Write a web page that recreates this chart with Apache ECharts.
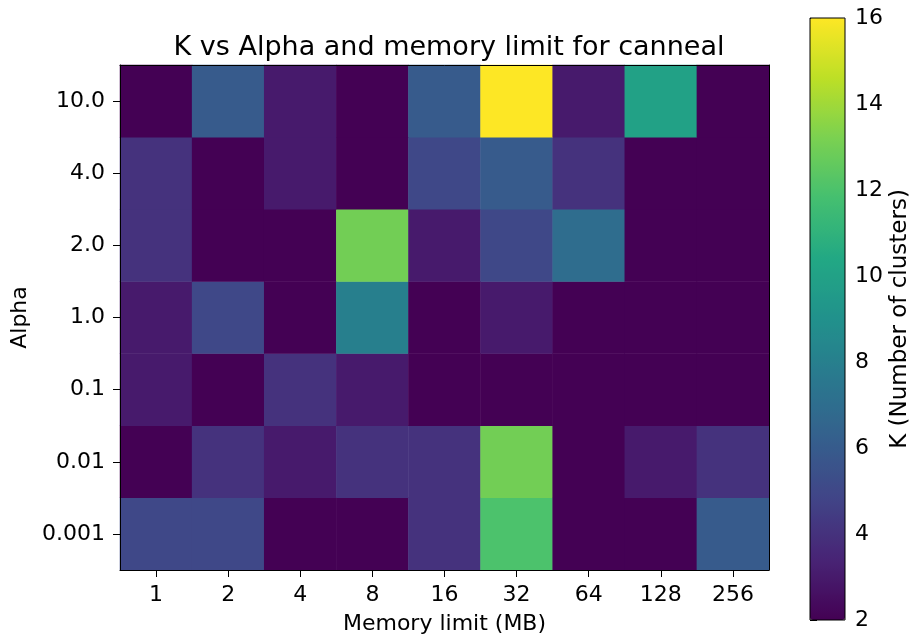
<!DOCTYPE html>
<html>
<head>
<meta charset="utf-8">
<script src="https://cdn.jsdelivr.net/npm/echarts@6/dist/echarts.min.js"></script>
<style>html,body{margin:0;padding:0;background:#fff}#c{width:914px;height:641px}</style>
</head>
<body>
<div id="c"></div>
<script>
const memoryLimits = ['1','2','4','8','16','32','64','128','256'];
const alphas = ['0.001','0.01','0.1','1.0','2.0','4.0','10.0']; // bottom to top
// values per alpha row, columns follow memoryLimits
const row_0_001 = [5,5,2,2,4,12,2,2,6];
const row_0_01  = [2,4,3,4,4,13,2,3,4];
const row_0_1   = [3,2,4,3,2,2,2,2,2];
const row_1_0   = [3,5,2,8,2,3,2,2,2];
const row_2_0   = [4,2,2,13,3,5,7,2,2];
const row_4_0   = [4,2,3,2,5,6,4,2,2];
const row_10_0  = [2,6,3,2,6,16,3,10,2];
const rows = [row_0_001,row_0_01,row_0_1,row_1_0,row_2_0,row_4_0,row_10_0];
const colorTicks = [2,4,6,8,10,12,14,16];

const viridis = ['#440154','#482475','#414487','#355f8d','#2a788e','#21918c','#22a884','#44bf70','#7ad151','#bddf26','#fde725'];

const data = [];
rows.forEach((r, yi) => r.forEach((v, xi) => data.push([xi, yi, v])));

const font = 'DejaVu Sans';
const FS = 22;
const chart = echarts.init(document.getElementById('c'), null, {renderer:'canvas'});
chart.setOption({
  animation: false,
  backgroundColor: '#fff',
  textStyle: {fontFamily: font},
  title: {
    text: 'K vs Alpha and memory limit for canneal',
    left: 444, top: 29, textAlign: 'center',
    textStyle: {fontFamily: font, fontSize: 27, fontWeight: 'normal', color: '#000'}
  },
  grid: [
    {left: 120, top: 65, width: 649, height: 505},
    {left: 810, top: 18, width: 35, height: 602, show: true, borderColor: '#000', borderWidth: 1, backgroundColor: 'transparent', z: 10}
  ],
  xAxis: [
    {type: 'category', data: memoryLimits, gridIndex: 0, position: 'bottom',
     name: 'Memory limit (MB)', nameLocation: 'middle', nameGap: 43,
     nameTextStyle: {fontFamily: font, fontSize: FS, color: '#000'},
     axisLine: {show: true, lineStyle: {color: '#000', width: 1}},
     axisTick: {show: true, alignWithLabel: true, length: 7, lineStyle: {color: '#000'}},
     axisLabel: {fontFamily: font, fontSize: FS, color: '#000', margin: 14},
     splitLine: {show: false}, z: 10},
    {type: 'category', data: memoryLimits, gridIndex: 0, position: 'top',
     axisLine: {show: true, lineStyle: {color: '#000', width: 1}},
     axisTick: {show: false}, axisLabel: {show: false}, z: 10},
    {type: 'value', gridIndex: 1, min: 0, max: 1, show: false}
  ],
  yAxis: [
    {type: 'category', data: alphas, gridIndex: 0, position: 'left',
     name: 'Alpha', nameLocation: 'middle', nameGap: 88, nameRotate: 90,
     nameTextStyle: {fontFamily: font, fontSize: FS, color: '#000'},
     axisLine: {show: true, lineStyle: {color: '#000', width: 1}},
     axisTick: {show: true, alignWithLabel: true, length: 7, lineStyle: {color: '#000'}},
     axisLabel: {fontFamily: font, fontSize: FS, color: '#000', margin: 15},
     splitLine: {show: false}, z: 10},
    {type: 'category', data: alphas, gridIndex: 0, position: 'right',
     axisLine: {show: true, lineStyle: {color: '#000', width: 1}},
     axisTick: {show: false}, axisLabel: {show: false}, z: 10},
    {type: 'value', gridIndex: 1, min: colorTicks[0], max: colorTicks[colorTicks.length-1], interval: 2, position: 'right',
     name: 'K (Number of clusters)', nameLocation: 'middle', nameGap: 44, nameRotate: 90,
     nameTextStyle: {fontFamily: font, fontSize: 23, color: '#000'},
     axisLine: {show: false},
     axisTick: {show: true, length: 7, lineStyle: {color: '#000'}},
     axisLabel: {fontFamily: font, fontSize: FS, color: '#000', margin: 10},
     splitLine: {show: false}}
  ],
  visualMap: {
    type: 'continuous', min: 2, max: 16, calculable: false, seriesIndex: 0, hoverLink: false,
    orient: 'vertical', left: 810, top: 18, itemWidth: 35, itemHeight: 602, padding: 0,
    inRange: {color: viridis}, text: null, showLabel: false
  },
  series: [{
    type: 'heatmap', xAxisIndex: 0, yAxisIndex: 0, data: data,
    itemStyle: {borderWidth: 0},
    emphasis: {disabled: true}
  }]
});
</script>
</body>
</html>
